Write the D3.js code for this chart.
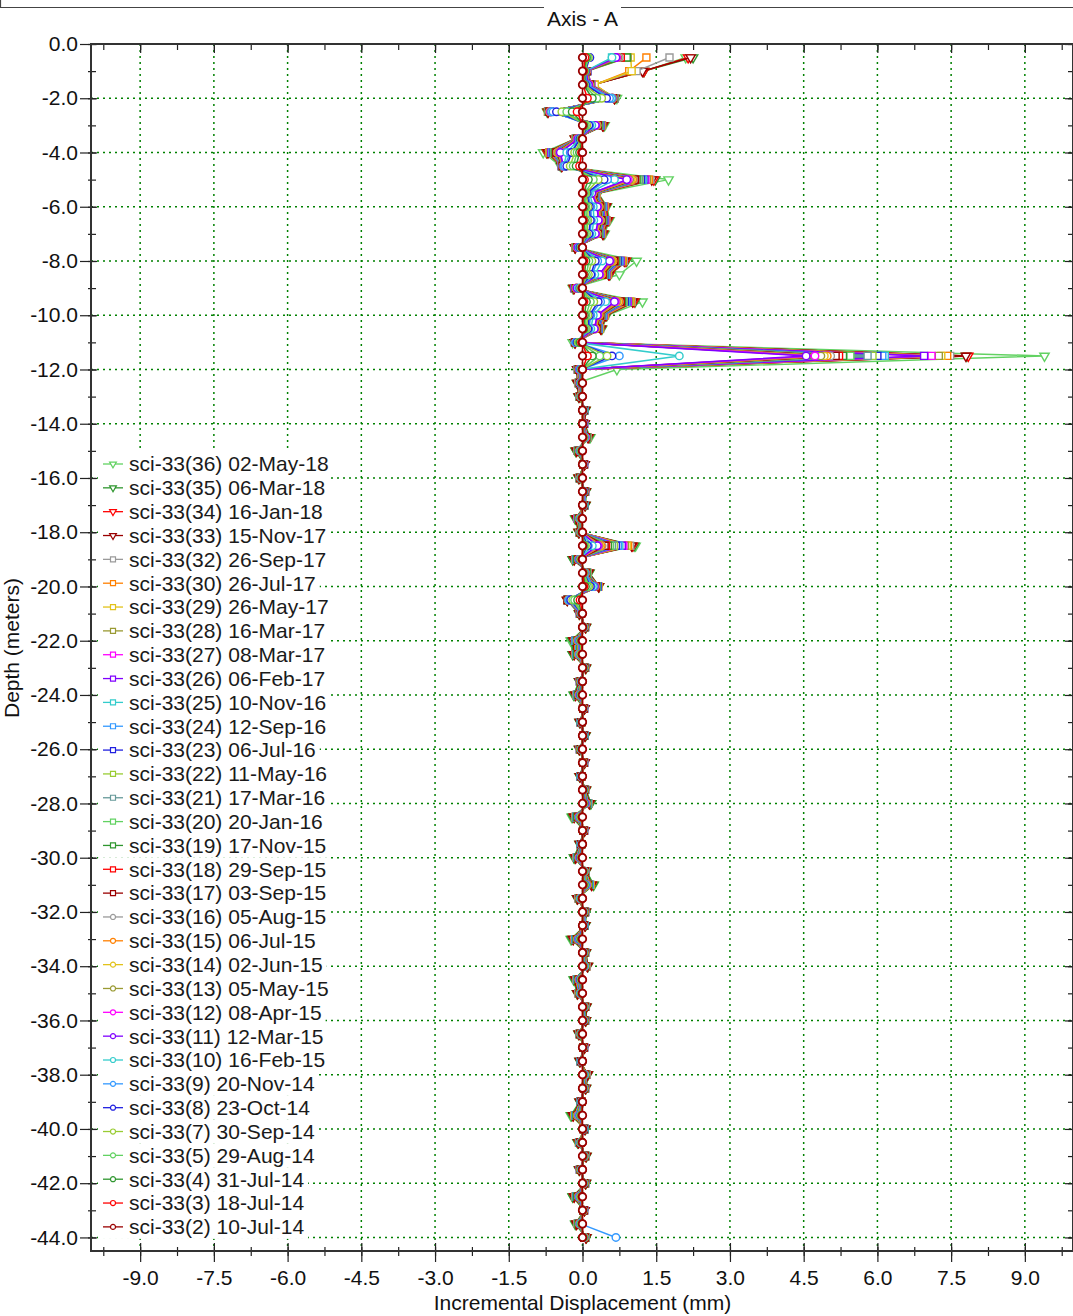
<!DOCTYPE html>
<html>
<head>
<meta charset="utf-8">
<script src="https://cdn.jsdelivr.net/npm/d3@7"></script>
<style>
	body { margin: 0; background: #fff; }
	#graphic { width: 1073px; height: 1316px; }
	text { font-family: "Liberation Sans", Arial, sans-serif; }
</style>
</head>
<body>
<div id="graphic"></div>
<script>
// depth of each reading (m)
const depths = [-0.5,-1,-1.5,-2,-2.5,-3,-3.5,-4,-4.5,-5,-5.5,-6,-6.5,-7,-7.5,-8,-8.5,-9,-9.5,-10,-10.5,-11,-11.5,-12,
	-12.5,-13,-13.5,-14,-14.5,-15,-15.5,-16,-16.5,-17,-17.5,-18,-18.5,-19,-19.5,-20,-20.5,-21,-21.5,-22,-22.5,-23,-23.5,-24,
	-24.5,-25,-25.5,-26,-26.5,-27,-27.5,-28,-28.5,-29,-29.5,-30,-30.5,-31,-31.5,-32,-32.5,-33,-33.5,-34,-34.5,-35,-35.5,-36,
	-36.5,-37,-37.5,-38,-38.5,-39,-39.5,-40,-40.5,-41,-41.5,-42,-42.5,-43,-43.5,-44];

// legend order, newest first
const seriesIds = [36,35,34,33,32,30,29,28,27,26,25,24,23,22,21,20,19,18,17,16,15,14,13,12,11,10,9,8,7,5,4,3,2];
const seriesDates = ["02-May-18","06-Mar-18","16-Jan-18","15-Nov-17","26-Sep-17","26-Jul-17","26-May-17","16-Mar-17",
	"08-Mar-17","06-Feb-17","10-Nov-16","12-Sep-16","06-Jul-16","11-May-16","17-Mar-16","20-Jan-16","17-Nov-15",
	"29-Sep-15","03-Sep-15","05-Aug-15","06-Jul-15","02-Jun-15","05-May-15","08-Apr-15","12-Mar-15","16-Feb-15",
	"20-Nov-14","23-Oct-14","30-Sep-14","29-Aug-14","31-Jul-14","18-Jul-14","10-Jul-14"];

// incremental displacement (mm) at each depth, one array per reading
const s36 = [2.1,1.25,0.2,0.7,-0.72,0.45,-0.15,-0.8,-0.45,1.75,0.32,0.5,0.55,0.45,-0.15,1.1,0.75,-0.2,1.22,0.5,0.4,-0.2,9.4,0.7,
	-0.11,-0.08,0.06,0.04,0.16,-0.14,0.04,-0.08,0.07,0.06,-0.15,-0.08,1.08,-0.2,0.14,0.34,-0.31,-0.07,0.07,-0.24,-0.2,0.07,-0.07,-0.18,0.04,-0.06,0.06,-0.07,0.04,-0.06,0.07,0.17,-0.22,0.04,-0.06,-0.17,0.08,0.23,-0.11,0.07,0.06,-0.24,0.07,0.11,-0.18,-0.11,0.08,0.07,-0.08,0.04,-0.06,0.11,0.07,-0.06,-0.24,0.06,-0.1,0.08,-0.07,0.07,-0.2,0.04,-0.15,0.08];
const s35 = [2.25,1.25,0.2,0.66,-0.71,0.43,-0.15,-0.73,-0.43,1.48,0.31,0.49,0.53,0.43,-0.15,0.9,0.56,-0.18,1.07,0.49,0.39,-0.16,7.82,-0.11,
	-0.11,-0.08,0.06,0.04,0.14,-0.14,0.04,-0.08,0.07,0.06,-0.14,-0.08,1.05,-0.2,0.14,0.33,-0.31,-0.07,0.07,-0.21,-0.2,0.07,-0.07,-0.17,0.04,-0.06,0.06,-0.07,0.04,-0.06,0.07,0.17,-0.2,0.04,-0.06,-0.17,0.08,0.22,-0.11,0.07,0.06,-0.22,0.07,0.11,-0.17,-0.11,0.08,0.07,-0.08,0.04,-0.06,0.11,0.07,-0.06,-0.22,0.06,-0.1,0.08,-0.07,0.07,-0.2,0.04,-0.14,0.08];
const s34 = [2.15,1.25,0.2,0.65,-0.7,0.42,-0.15,-0.72,-0.42,1.45,0.3,0.48,0.52,0.42,-0.15,0.88,0.55,-0.18,1.05,0.48,0.38,-0.15,7.85,-0.1,
	-0.1,-0.07,0.05,0.04,0.12,-0.12,0.04,-0.07,0.06,0.05,-0.12,-0.07,1.02,-0.17,0.12,0.33,-0.31,-0.06,0.06,-0.18,-0.17,0.06,-0.06,-0.14,0.04,-0.05,0.05,-0.06,0.04,-0.05,0.06,0.14,-0.17,0.04,-0.05,-0.14,0.07,0.19,-0.1,0.06,0.05,-0.19,0.06,0.1,-0.14,-0.1,0.07,0.06,-0.07,0.04,-0.05,0.1,0.06,-0.05,-0.19,0.05,-0.08,0.07,-0.06,0.06,-0.17,0.04,-0.12,0.07];
const s33 = [2.2,1.22,0.22,0.65,-0.7,0.41,-0.15,-0.7,-0.42,1.41,0.29,0.47,0.5,0.41,-0.15,0.85,0.53,-0.17,1.02,0.47,0.37,-0.15,7.8,-0.1,
	-0.1,-0.07,0.05,0.04,0.11,-0.12,0.04,-0.07,0.06,0.05,-0.12,-0.07,1.0,-0.17,0.12,0.33,-0.31,-0.06,0.06,-0.18,-0.17,0.06,-0.06,-0.14,0.04,-0.05,0.05,-0.06,0.04,-0.05,0.06,0.14,-0.17,0.04,-0.05,-0.14,0.07,0.18,-0.1,0.06,0.05,-0.19,0.06,0.1,-0.14,-0.1,0.07,0.06,-0.07,0.04,-0.05,0.1,0.06,-0.05,-0.19,0.05,-0.08,0.07,-0.06,0.06,-0.17,0.04,-0.12,0.07];
const s32 = [1.77,1.1,0.22,0.65,-0.7,0.4,-0.14,-0.68,-0.42,1.38,0.29,0.46,0.49,0.4,-0.14,0.84,0.52,-0.17,1.0,0.46,0.36,-0.15,7.48,-0.1,
	-0.08,-0.06,0.04,0.03,0.1,-0.1,0.03,-0.06,0.05,0.04,-0.1,-0.06,0.97,-0.14,0.1,0.32,-0.3,-0.05,0.05,-0.15,-0.14,0.05,-0.05,-0.12,0.03,-0.04,0.04,-0.05,0.03,-0.04,0.05,0.12,-0.14,0.03,-0.04,-0.12,0.06,0.16,-0.08,0.05,0.04,-0.16,0.05,0.08,-0.12,-0.08,0.06,0.05,-0.06,0.03,-0.04,0.08,0.05,-0.04,-0.16,0.04,-0.07,0.06,-0.05,0.05,-0.14,0.03,-0.1,0.06];
const s30 = [1.3,0.95,0.25,0.65,-0.7,0.39,-0.14,-0.67,-0.42,1.35,0.28,0.45,0.48,0.39,-0.14,0.82,0.51,-0.17,0.98,0.45,0.35,-0.15,7.42,-0.09,
	-0.08,-0.06,0.04,0.03,0.1,-0.1,0.03,-0.06,0.05,0.04,-0.1,-0.06,0.93,-0.14,0.1,0.32,-0.3,-0.05,0.05,-0.15,-0.14,0.05,-0.05,-0.11,0.03,-0.04,0.04,-0.05,0.03,-0.04,0.05,0.11,-0.14,0.03,-0.04,-0.12,0.06,0.16,-0.08,0.05,0.04,-0.16,0.05,0.08,-0.12,-0.08,0.06,0.05,-0.06,0.03,-0.04,0.08,0.05,-0.04,-0.16,0.04,-0.07,0.06,-0.05,0.05,-0.14,0.03,-0.1,0.06];
const s29 = [0.98,1.0,0.25,0.65,-0.7,0.38,-0.14,-0.66,-0.42,1.32,0.27,0.44,0.47,0.38,-0.14,0.8,0.5,-0.16,0.96,0.44,0.35,-0.15,7.3,-0.09,
	-0.08,-0.06,0.04,0.03,0.1,-0.09,0.03,-0.06,0.05,0.04,-0.1,-0.06,0.9,-0.14,0.1,0.32,-0.3,-0.05,0.05,-0.15,-0.14,0.05,-0.05,-0.12,0.03,-0.04,0.04,-0.05,0.03,-0.04,0.05,0.12,-0.14,0.03,-0.04,-0.12,0.06,0.16,-0.08,0.05,0.04,-0.15,0.05,0.08,-0.12,-0.08,0.06,0.05,-0.06,0.03,-0.04,0.08,0.05,-0.04,-0.16,0.04,-0.07,0.06,-0.05,0.05,-0.14,0.03,-0.1,0.06];
const s28 = [0.92,0.1,0.18,0.65,-0.7,0.38,-0.14,-0.65,-0.42,1.31,0.27,0.43,0.47,0.38,-0.14,0.79,0.5,-0.16,0.95,0.43,0.34,-0.15,7.25,-0.09,
	-0.07,-0.05,0.04,0.03,0.09,-0.09,0.03,-0.05,0.05,0.04,-0.09,-0.05,0.86,-0.13,0.09,0.31,-0.3,-0.05,0.05,-0.14,-0.13,0.05,-0.05,-0.11,0.03,-0.04,0.04,-0.05,0.03,-0.04,0.05,0.11,-0.13,0.03,-0.04,-0.11,0.05,0.14,-0.07,0.05,0.04,-0.14,0.05,0.07,-0.11,-0.07,0.05,0.05,-0.05,0.03,-0.04,0.07,0.05,-0.04,-0.14,0.04,-0.06,0.05,-0.05,0.05,-0.13,0.03,-0.09,0.05];
const s27 = [0.8,0.1,0.18,0.64,-0.69,0.37,-0.13,-0.63,-0.42,1.28,0.26,0.42,0.46,0.37,-0.13,0.77,0.48,-0.16,0.92,0.42,0.33,-0.15,7.1,-0.09,
	-0.07,-0.05,0.04,0.03,0.09,-0.09,0.03,-0.05,0.05,0.04,-0.1,-0.05,0.83,-0.13,0.09,0.31,-0.3,-0.05,0.05,-0.14,-0.13,0.05,-0.05,-0.11,0.03,-0.04,0.04,-0.05,0.03,-0.04,0.05,0.11,-0.13,0.03,-0.04,-0.11,0.05,0.14,-0.07,0.05,0.04,-0.14,0.05,0.07,-0.11,-0.07,0.05,0.05,-0.05,0.03,-0.04,0.07,0.05,-0.04,-0.14,0.04,-0.06,0.05,-0.05,0.05,-0.13,0.03,-0.09,0.05];
const s26 = [0.72,0.1,0.17,0.64,-0.69,0.37,-0.13,-0.63,-0.42,1.26,0.26,0.42,0.45,0.37,-0.13,0.77,0.48,-0.16,0.91,0.42,0.33,-0.15,6.95,-0.09,
	-0.07,-0.05,0.04,0.03,0.09,-0.09,0.03,-0.05,0.05,0.04,-0.09,-0.05,0.8,-0.13,0.09,0.31,-0.3,-0.05,0.05,-0.13,-0.13,0.05,-0.05,-0.11,0.03,-0.04,0.04,-0.05,0.03,-0.04,0.05,0.11,-0.13,0.03,-0.04,-0.11,0.05,0.14,-0.07,0.05,0.04,-0.14,0.05,0.07,-0.11,-0.07,0.05,0.05,-0.05,0.03,-0.04,0.07,0.05,-0.04,-0.14,0.04,-0.06,0.05,-0.05,0.05,-0.13,0.03,-0.09,0.05];
const s25 = [0.6,0.09,0.17,0.64,-0.69,0.36,-0.13,-0.61,-0.42,1.23,0.26,0.41,0.44,0.36,-0.13,0.75,0.47,-0.15,0.89,0.41,0.32,-0.15,6.15,-0.09,
	-0.07,-0.05,0.04,0.03,0.09,-0.09,0.03,-0.05,0.05,0.04,-0.09,-0.05,0.75,-0.13,0.09,0.3,-0.3,-0.05,0.05,-0.14,-0.13,0.05,-0.05,-0.11,0.03,-0.04,0.04,-0.05,0.03,-0.04,0.05,0.11,-0.13,0.03,-0.04,-0.11,0.05,0.14,-0.07,0.05,0.04,-0.14,0.05,0.07,-0.11,-0.07,0.05,0.05,-0.05,0.03,-0.04,0.07,0.05,-0.04,-0.14,0.04,-0.06,0.05,-0.05,0.05,-0.13,0.03,-0.09,0.05];
const s24 = [0.65,0.09,0.17,0.64,-0.69,0.35,-0.12,-0.6,-0.41,1.2,0.25,0.4,0.43,0.35,-0.12,0.73,0.46,-0.15,0.87,0.4,0.32,-0.15,6.1,-0.08,
	-0.07,-0.05,0.04,0.03,0.09,-0.09,0.03,-0.05,0.05,0.04,-0.09,-0.05,0.72,-0.13,0.09,0.3,-0.3,-0.05,0.05,-0.14,-0.13,0.05,-0.05,-0.11,0.03,-0.04,0.04,-0.05,0.03,-0.04,0.05,0.1,-0.13,0.03,-0.04,-0.11,0.05,0.14,-0.07,0.05,0.04,-0.14,0.05,0.07,-0.11,-0.07,0.05,0.05,-0.05,0.03,-0.04,0.07,0.05,-0.04,-0.14,0.04,-0.06,0.05,-0.05,0.05,-0.13,0.03,-0.09,0.05];
const s23 = [0.7,0.09,0.16,0.64,-0.69,0.34,-0.12,-0.59,-0.41,1.19,0.25,0.39,0.43,0.34,-0.12,0.72,0.45,-0.15,0.86,0.39,0.31,-0.15,6.0,-0.08,
	-0.06,-0.05,0.03,0.02,0.07,-0.08,0.02,-0.05,0.04,0.03,-0.08,-0.05,0.68,-0.11,0.08,0.3,-0.3,-0.04,0.04,-0.11,-0.11,0.04,-0.04,-0.09,0.02,-0.03,0.03,-0.04,0.02,-0.03,0.04,0.09,-0.11,0.02,-0.03,-0.09,0.05,0.12,-0.06,0.04,0.03,-0.12,0.04,0.06,-0.09,-0.06,0.05,0.04,-0.05,0.02,-0.03,0.06,0.04,-0.03,-0.12,0.03,-0.05,0.05,-0.04,0.04,-0.11,0.02,-0.08,0.05];
const s22 = [0.78,0.09,0.16,0.64,-0.69,0.34,-0.12,-0.58,-0.41,1.16,0.24,0.38,0.42,0.34,-0.12,0.7,0.44,-0.14,0.84,0.38,0.3,-0.15,5.9,-0.08,
	-0.06,-0.05,0.03,0.02,0.08,-0.08,0.02,-0.05,0.04,0.03,-0.08,-0.05,0.64,-0.11,0.08,0.29,-0.3,-0.04,0.04,-0.11,-0.11,0.04,-0.04,-0.09,0.02,-0.03,0.03,-0.04,0.02,-0.03,0.04,0.09,-0.11,0.02,-0.03,-0.09,0.05,0.11,-0.06,0.04,0.03,-0.12,0.04,0.06,-0.09,-0.06,0.05,0.04,-0.05,0.02,-0.03,0.06,0.04,-0.03,-0.12,0.03,-0.05,0.05,-0.04,0.04,-0.11,0.02,-0.08,0.05];
const s21 = [0.75,0.09,0.16,0.63,-0.68,0.33,-0.12,-0.57,-0.41,1.15,0.24,0.38,0.41,0.33,-0.12,0.7,0.43,-0.14,0.83,0.38,0.3,-0.15,5.8,-0.08,
	-0.06,-0.05,0.03,0.02,0.08,-0.08,0.02,-0.05,0.04,0.03,-0.08,-0.05,0.6,-0.11,0.08,0.29,-0.3,-0.04,0.04,-0.11,-0.11,0.04,-0.04,-0.09,0.02,-0.03,0.03,-0.04,0.02,-0.03,0.04,0.09,-0.11,0.02,-0.03,-0.09,0.05,0.12,-0.06,0.04,0.03,-0.12,0.04,0.06,-0.09,-0.06,0.05,0.04,-0.05,0.02,-0.03,0.06,0.04,-0.03,-0.12,0.03,-0.05,0.05,-0.04,0.04,-0.11,0.02,-0.08,0.05];
const s20 = [0.8,0.09,0.15,0.63,-0.68,0.32,-0.12,-0.55,-0.41,1.12,0.23,0.37,0.4,0.32,-0.12,0.68,0.42,-0.14,0.81,0.37,0.29,-0.15,5.45,-0.08,
	-0.06,-0.05,0.03,0.02,0.08,-0.08,0.02,-0.05,0.04,0.03,-0.08,-0.05,0.56,-0.11,0.08,0.28,-0.3,-0.04,0.04,-0.11,-0.11,0.04,-0.04,-0.09,0.02,-0.03,0.03,-0.04,0.02,-0.03,0.04,0.09,-0.11,0.02,-0.03,-0.09,0.05,0.12,-0.06,0.04,0.03,-0.11,0.04,0.06,-0.09,-0.06,0.05,0.04,-0.05,0.02,-0.03,0.06,0.04,-0.03,-0.12,0.03,-0.05,0.05,-0.04,0.04,-0.11,0.02,-0.08,0.05];
const s19 = [0.9,0.08,0.15,0.62,-0.67,0.32,-0.11,-0.55,-0.4,1.1,0.23,0.36,0.4,0.32,-0.11,0.67,0.42,-0.14,0.8,0.36,0.29,-0.14,5.3,-0.08,
	-0.06,-0.05,0.03,0.02,0.08,-0.08,0.02,-0.05,0.04,0.03,-0.08,-0.05,0.52,-0.11,0.08,0.28,-0.3,-0.04,0.04,-0.11,-0.11,0.04,-0.04,-0.09,0.02,-0.03,0.03,-0.04,0.02,-0.03,0.04,0.09,-0.11,0.02,-0.03,-0.09,0.05,0.12,-0.06,0.04,0.03,-0.12,0.04,0.06,-0.09,-0.06,0.05,0.04,-0.05,0.02,-0.03,0.06,0.04,-0.03,-0.12,0.03,-0.05,0.05,-0.04,0.04,-0.11,0.02,-0.08,0.05];
const s18 = [0.78,0.08,0.15,0.62,-0.67,0.31,-0.11,-0.53,-0.4,1.07,0.22,0.36,0.38,0.31,-0.11,0.65,0.41,-0.13,0.78,0.36,0.28,-0.14,5.22,-0.07,
	-0.05,-0.04,0.02,0.02,0.07,-0.06,0.02,-0.04,0.03,0.02,-0.06,-0.04,0.48,-0.08,0.06,0.27,-0.3,-0.03,0.03,-0.09,-0.08,0.03,-0.03,-0.07,0.02,-0.02,0.02,-0.03,0.02,-0.02,0.03,0.07,-0.08,0.02,-0.02,-0.07,0.04,0.1,-0.05,0.03,0.02,-0.1,0.03,0.05,-0.07,-0.05,0.04,0.03,-0.04,0.02,-0.02,0.05,0.03,-0.02,-0.1,0.02,-0.04,0.04,-0.03,0.03,-0.08,0.02,-0.06,0.04];
const s17 = [0.72,0.08,0.15,0.62,-0.67,0.31,-0.11,-0.53,-0.4,1.06,0.22,0.35,0.38,0.31,-0.11,0.64,0.4,-0.13,0.77,0.35,0.28,-0.14,5.15,-0.07,
	-0.05,-0.04,0.02,0.02,0.06,-0.06,0.02,-0.04,0.03,0.02,-0.06,-0.04,0.45,-0.08,0.06,0.27,-0.3,-0.03,0.03,-0.09,-0.08,0.03,-0.03,-0.07,0.02,-0.02,0.02,-0.03,0.02,-0.02,0.03,0.07,-0.08,0.02,-0.02,-0.07,0.04,0.1,-0.05,0.03,0.02,-0.1,0.03,0.05,-0.07,-0.05,0.04,0.03,-0.04,0.02,-0.02,0.05,0.03,-0.02,-0.1,0.02,-0.04,0.04,-0.03,0.03,-0.08,0.02,-0.06,0.04];
const s16 = [0.75,0.08,0.14,0.62,-0.67,0.3,-0.11,-0.51,-0.4,1.03,0.21,0.34,0.37,0.3,-0.11,0.62,0.39,-0.13,0.75,0.34,0.27,-0.14,5.05,-0.07,
	-0.05,-0.04,0.02,0.02,0.06,-0.06,0.02,-0.04,0.03,0.02,-0.06,-0.04,0.4,-0.08,0.06,0.26,-0.29,-0.03,0.03,-0.09,-0.08,0.03,-0.03,-0.07,0.02,-0.02,0.02,-0.03,0.02,-0.02,0.03,0.08,-0.08,0.02,-0.02,-0.07,0.04,0.1,-0.05,0.03,0.02,-0.1,0.03,0.05,-0.07,-0.05,0.04,0.03,-0.04,0.02,-0.02,0.05,0.03,-0.02,-0.1,0.02,-0.04,0.04,-0.03,0.03,-0.08,0.02,-0.06,0.04];
const s15 = [0.7,0.08,0.14,0.61,-0.66,0.29,-0.11,-0.5,-0.39,1.02,0.21,0.34,0.36,0.29,-0.11,0.62,0.39,-0.13,0.74,0.34,0.27,-0.14,4.98,-0.07,
	-0.05,-0.04,0.02,0.02,0.06,-0.06,0.02,-0.04,0.03,0.02,-0.06,-0.04,0.38,-0.08,0.06,0.26,-0.29,-0.03,0.03,-0.09,-0.08,0.03,-0.03,-0.07,0.02,-0.02,0.02,-0.03,0.02,-0.02,0.03,0.07,-0.08,0.02,-0.02,-0.07,0.04,0.1,-0.05,0.03,0.02,-0.1,0.03,0.05,-0.07,-0.05,0.04,0.03,-0.04,0.02,-0.02,0.05,0.03,-0.02,-0.1,0.02,-0.04,0.04,-0.03,0.03,-0.08,0.02,-0.06,0.04];
const s14 = [0.65,0.08,0.14,0.61,-0.66,0.29,-0.1,-0.49,-0.39,0.99,0.2,0.33,0.35,0.29,-0.1,0.6,0.37,-0.12,0.71,0.33,0.26,-0.14,4.92,-0.07,
	-0.05,-0.04,0.02,0.02,0.06,-0.06,0.02,-0.04,0.03,0.02,-0.06,-0.04,0.35,-0.08,0.06,0.25,-0.29,-0.03,0.03,-0.1,-0.08,0.03,-0.03,-0.07,0.02,-0.02,0.02,-0.03,0.02,-0.02,0.03,0.07,-0.08,0.02,-0.02,-0.07,0.04,0.1,-0.05,0.03,0.02,-0.1,0.03,0.05,-0.07,-0.05,0.04,0.03,-0.04,0.02,-0.02,0.05,0.03,-0.02,-0.1,0.02,-0.04,0.04,-0.03,0.03,-0.08,0.02,-0.06,0.04];
const s13 = [0.72,0.07,0.13,0.61,-0.65,0.28,-0.1,-0.48,-0.39,0.96,0.2,0.32,0.34,0.28,-0.1,0.58,0.36,-0.12,0.69,0.32,0.25,-0.14,4.85,-0.07,
	-0.05,-0.04,0.02,0.02,0.06,-0.06,0.02,-0.04,0.03,0.02,-0.06,-0.04,0.33,-0.08,0.06,0.25,-0.28,-0.03,0.03,-0.09,-0.08,0.03,-0.03,-0.07,0.02,-0.02,0.02,-0.03,0.02,-0.02,0.03,0.07,-0.08,0.02,-0.02,-0.07,0.04,0.1,-0.05,0.03,0.02,-0.1,0.03,0.05,-0.07,-0.05,0.04,0.03,-0.04,0.02,-0.02,0.05,0.03,-0.02,-0.1,0.02,-0.04,0.04,-0.03,0.03,-0.08,0.02,-0.06,0.04];
const s12 = [0.7,0.07,0.13,0.6,-0.65,0.27,-0.1,-0.46,-0.39,0.93,0.19,0.31,0.33,0.27,-0.1,0.56,0.35,-0.12,0.67,0.31,0.24,-0.14,4.73,-0.06,
	-0.05,-0.03,0.02,0.02,0.06,-0.05,0.02,-0.03,0.03,0.02,-0.05,-0.03,0.32,-0.07,0.05,0.24,-0.28,-0.03,0.02,-0.08,-0.07,0.02,-0.02,-0.06,0.01,-0.02,0.02,-0.02,0.01,-0.02,0.02,0.06,-0.07,0.01,-0.02,-0.06,0.03,0.08,-0.04,0.02,0.02,-0.08,0.02,0.04,-0.06,-0.04,0.03,0.02,-0.03,0.01,-0.02,0.04,0.02,-0.02,-0.08,0.02,-0.03,0.03,-0.02,0.02,-0.07,0.01,-0.05,0.03];
const s11 = [0.68,0.07,0.12,0.6,-0.64,0.26,-0.09,-0.45,-0.39,0.9,0.19,0.3,0.32,0.26,-0.09,0.55,0.34,-0.11,0.65,0.3,0.24,-0.14,4.55,-0.06,
	-0.04,-0.03,0.02,0.02,0.05,-0.05,0.01,-0.03,0.02,0.02,-0.05,-0.03,0.3,-0.07,0.05,0.24,-0.28,-0.02,0.02,-0.07,-0.06,0.02,-0.02,-0.05,0.01,-0.02,0.02,-0.02,0.01,-0.02,0.02,0.05,-0.07,0.01,-0.02,-0.05,0.03,0.07,-0.04,0.02,0.02,-0.08,0.02,0.04,-0.05,-0.04,0.03,0.02,-0.03,0.01,-0.02,0.04,0.02,-0.02,-0.07,0.02,-0.03,0.03,-0.02,0.02,-0.07,0.01,-0.05,0.03];
const s10 = [0.6,0.06,0.09,0.59,-0.63,0.19,-0.07,-0.32,-0.38,0.65,0.14,0.22,0.23,0.19,-0.07,0.4,0.25,-0.08,0.47,0.22,0.17,-0.14,1.97,-0.05,
	-0.04,-0.03,0.02,0.01,0.05,-0.05,0.01,-0.03,0.02,0.02,-0.05,-0.03,0.2,-0.06,0.05,0.22,-0.28,-0.02,0.02,-0.07,-0.06,0.02,-0.02,-0.05,0.01,-0.02,0.02,-0.02,0.01,-0.02,0.02,0.05,-0.06,0.01,-0.02,-0.05,0.03,0.07,-0.04,0.02,0.02,-0.07,0.02,0.04,-0.05,-0.04,0.03,0.02,-0.03,0.01,-0.02,0.04,0.02,-0.02,-0.07,0.02,-0.03,0.03,-0.02,0.02,-0.06,0.01,-0.05,0.03];
const s9 = [0.12,0.05,0.07,0.55,-0.6,0.15,-0.05,-0.25,-0.36,0.51,0.11,0.17,0.18,0.15,-0.05,0.31,0.19,-0.06,0.37,0.17,0.13,-0.13,0.75,-0.04,
	-0.03,-0.02,0.02,0.01,0.04,-0.04,0.01,-0.02,0.02,0.02,-0.04,-0.02,0.12,-0.05,0.04,0.18,-0.26,-0.02,0.02,-0.05,-0.05,0.02,-0.02,-0.04,0.01,-0.02,0.02,-0.02,0.01,-0.02,0.02,0.04,-0.05,0.01,-0.02,-0.04,0.02,0.05,-0.03,0.02,0.02,-0.05,0.02,0.03,-0.04,-0.03,0.02,0.02,-0.02,0.01,-0.02,0.03,0.02,-0.02,-0.05,0.02,-0.03,0.02,-0.02,0.02,-0.05,0.01,-0.04,0.68];
const s8 = [0.15,0.06,0.06,0.49,-0.53,0.13,-0.05,-0.22,-0.32,0.44,0.09,0.14,0.16,0.13,-0.05,0.26,0.17,-0.05,0.32,0.14,0.11,-0.11,0.6,-0.03,
	-0.03,-0.02,0.01,0.01,0.03,-0.03,0.01,-0.02,0.02,0.01,-0.03,-0.02,0.1,-0.05,0.03,0.16,-0.24,-0.01,0.01,-0.05,-0.04,0.01,-0.01,-0.04,0.01,-0.01,0.01,-0.01,0.01,-0.01,0.01,0.04,-0.04,0.01,-0.01,-0.04,0.02,0.05,-0.02,0.01,0.01,-0.05,0.01,0.02,-0.04,-0.02,0.02,0.01,-0.02,0.01,-0.01,0.02,0.01,-0.01,-0.05,0.01,-0.02,0.02,-0.01,0.01,-0.04,0.01,-0.03,0.02];
const s7 = [0.12,0.05,0.04,0.39,-0.42,0.09,-0.03,-0.16,-0.25,0.32,0.07,0.11,0.11,0.09,-0.03,0.19,0.12,-0.04,0.23,0.11,0.08,-0.09,0.5,-0.02,
	-0.02,-0.02,0.01,0.01,0.03,-0.03,0.01,-0.02,0.01,0.01,-0.03,-0.02,0.06,-0.04,0.03,0.13,-0.2,-0.01,0.01,-0.04,-0.04,0.01,-0.01,-0.03,0.01,-0.01,0.01,-0.01,0.01,-0.01,0.01,0.03,-0.04,0.01,-0.01,-0.03,0.02,0.04,-0.02,0.01,0.01,-0.04,0.01,0.02,-0.03,-0.02,0.02,0.01,-0.02,0.01,-0.01,0.02,0.01,-0.01,-0.04,0.01,-0.02,0.02,-0.01,0.01,-0.04,0.01,-0.03,0.02];
const s5 = [0.1,0.04,0.03,0.29,-0.32,0.06,-0.02,-0.11,-0.19,0.22,0.05,0.07,0.08,0.06,-0.02,0.13,0.08,-0.03,0.16,0.07,0.06,-0.07,0.35,-0.02,
	-0.02,-0.01,0.01,0,0.02,-0.02,0,-0.01,0.01,0.01,-0.02,-0.01,0.04,-0.02,0.02,0.1,-0.16,-0.01,0.01,-0.03,-0.02,0.01,0,-0.02,0,-0.01,0.01,-0.01,0,0,0.01,0.02,-0.02,0,0,-0.02,0.01,0.03,-0.01,0.01,0,-0.03,0.01,0.01,-0.02,-0.01,0.01,0.01,-0.01,0,0,0.01,0.01,0,-0.03,0,-0.01,0.01,-0.01,0.01,-0.02,0,-0.02,0.01];
const s4 = [0.08,0.03,0.02,0.2,-0.21,0.03,-0.01,-0.06,-0.13,0.12,0.02,0.04,0.04,0.03,-0.01,0.07,0.04,-0.01,0.08,0.04,0.03,-0.05,0.2,-0.01,
	-0.01,-0.01,0,0,0.01,-0.01,0,-0.01,0.01,0,-0.01,-0.01,0.02,-0.01,0.01,0.06,-0.1,-0.01,0,-0.02,-0.01,0.01,0,-0.01,0,0,0,-0.01,0,0,0.01,0.01,-0.01,0,0,-0.01,0.01,0.02,-0.01,0,0,-0.02,0,0.01,-0.01,-0.01,0.01,0,-0.01,0,0,0.01,0,0,-0.02,0,-0.01,0.01,0,0,-0.01,0,-0.01,0.01];
const s3 = [0.05,0.02,0.01,0.1,-0.11,0.01,0,-0.02,-0.06,0.04,0.01,0.01,0.02,0.01,0,0.03,0.02,-0.01,0.03,0.01,0.01,-0.02,0.1,0,
	0,0,0,0,0.01,0,0,0,0,0,-0.01,0,0,-0.01,0.01,0.03,-0.05,0,0,-0.01,-0.01,0,0,0,0,0,0,0,0,0,0,0.01,-0.01,0,0,-0.01,0,0.01,0,0,0,-0.01,0,0,0,0,0,0,0,0,0,0,0,0,-0.01,0,0,0,0,0,-0.01,0,0,0];
const s2 = [0,0,0,0,0,0,0,0,0,0,0,0,0,0,0,0,0,0,0,0,0,0,0,0,
	0,0,0,0,0,0,0,0,0,0,0,0,0,0,0,0,0,0,0,0,0,0,0,0,0,0,0,0,0,0,0,0,0,0,0,0,0,0,0,0,0,0,0,0,0,0,0,0,0,0,0,0,0,0,0,0,0,0,0,0,0,0,0,0];

const seriesValues = [s36,s35,s34,s33,s32,s30,s29,s28,s27,s26,s25,s24,s23,s22,s21,s20,s19,s18,s17,s16,s15,s14,s13,s12,s11,s10,s9,s8,s7,s5,s4,s3,s2];

// axis ticks
const xTicks = [-9,-7.5,-6,-4.5,-3,-1.5,0,1.5,3,4.5,6,7.5,9];
const xMinorTicks = [-9.75,-9,-8.25,-7.5,-6.75,-6,-5.25,-4.5,-3.75,-3,-2.25,-1.5,-0.75,0,0.75,1.5,2.25,3,3.75,4.5,5.25,6,6.75,7.5,8.25,9,9.75];
const yTicks = [0,-2,-4,-6,-8,-10,-12,-14,-16,-18,-20,-22,-24,-26,-28,-30,-32,-34,-36,-38,-40,-42,-44];
const yMinorTicks = [0,-1,-2,-3,-4,-5,-6,-7,-8,-9,-10,-11,-12,-13,-14,-15,-16,-17,-18,-19,-20,-21,-22,
	-23,-24,-25,-26,-27,-28,-29,-30,-31,-32,-33,-34,-35,-36,-37,-38,-39,-40,-41,-42,-43,-44];

// style per reading (same order as seriesIds)
const colourPalette = ["#62d262","#2f962f","#ff0000","#9a0000","#9a9a9a","#ff8000","#e2c21a","#9a9a33","#ff00ff","#8000ff",
	"#33cccc","#3399ff","#2020e0","#99cc33","#669999","#62d262","#2f962f","#ff0000","#9a0000","#9a9a9a","#ff8000","#e2c21a",
	"#9a9a33","#ff00ff","#8000ff","#33cccc","#3399ff","#2020e0","#99cc33","#62d262","#2f962f","#ff0000","#9a0000"];
const shapeFor = (id) => id >= 33 ? 'triangle' : id >= 17 ? 'square' : 'circle';

const config = {
	width: 1073,
	height: 1316,
	plot: { left: 91, right: 1074, top: 44, bottom: 1251 },
	font: '"Liberation Sans", Arial, sans-serif',
	fontSize: 21,
	legendTop: 464,
	legendStep: 23.84
};

function symbolPath(shape, legend) {
	if (shape == 'triangle') return d3.symbol(d3.symbolTriangle, legend ? 20 : 38)();
	if (shape == 'square') return d3.symbol(d3.symbolSquare, legend ? 25 : 49)();
	return d3.symbol(d3.symbolCircle, legend ? 20 : 44)();
}

function drawGraphic() {
	let p = config.plot;

	let svg = d3.select('#graphic')
		.append('svg')
		.attr('width', config.width)
		.attr('height', config.height)
		.style('display', 'block');

	const x = d3.scaleLinear().domain([-10, 10]).range([p.left, p.right]);
	const y = d3.scaleLinear().domain([0, -44.5]).range([p.top, p.bottom]);

	// frame line and title
	svg.append('line')
		.attr('x1', 0).attr('x2', config.width)
		.attr('y1', 7.5).attr('y2', 7.5)
		.attr('stroke', '#444').attr('stroke-width', 1.2);
	svg.append('line')
		.attr('x1', 0.5).attr('x2', 0.5)
		.attr('y1', 0).attr('y2', 8)
		.attr('stroke', '#444').attr('stroke-width', 1.2);
	svg.append('rect')
		.attr('x', 544).attr('y', 2).attr('width', 77).attr('height', 26)
		.attr('fill', '#fff');
	svg.append('text')
		.attr('x', x(0)).attr('y', 19)
		.attr('dy', '0.35em')
		.attr('text-anchor', 'middle')
		.style('font-size', config.fontSize + 'px')
		.attr('fill', '#111')
		.text('Axis - A');

	// gridlines
	svg.append('g')
		.selectAll('line')
		.data(xTicks)
		.join('line')
		.attr('x1', (d) => x(d)).attr('x2', (d) => x(d))
		.attr('y1', p.top).attr('y2', p.bottom)
		.attr('stroke', '#008000').attr('stroke-width', 1.5)
		.attr('stroke-dasharray', '2,4');
	svg.append('g')
		.selectAll('line')
		.data(yTicks.filter((d) => d != 0))
		.join('line')
		.attr('x1', p.left).attr('x2', p.right)
		.attr('y1', (d) => y(d)).attr('y2', (d) => y(d))
		.attr('stroke', '#008000').attr('stroke-width', 1.5)
		.attr('stroke-dasharray', '2,4');

	// axes
	const fmt = (d) => d.toFixed(1);
	function tickGroup(gen, tx, ty, labels) {
		let g = svg.append('g')
			.attr('transform', 'translate(' + tx + ',' + ty + ')')
			.call(gen);
		g.select('.domain').remove();
		g.selectAll('line').attr('stroke', '#222').attr('stroke-width', 1.2);
		if (labels) {
			g.selectAll('text')
				.style('font-size', config.fontSize + 'px')
				.style('font-family', config.font)
				.attr('fill', '#111');
		} else {
			g.selectAll('text').remove();
		}
		return g;
	}

	// left
	tickGroup(d3.axisLeft(y).tickValues(yTicks).tickSize(11).tickPadding(2).tickFormat(fmt), p.left, 0, true);
	tickGroup(d3.axisRight(y).tickValues(yTicks).tickSize(6), p.left, 0, false);
	tickGroup(d3.axisLeft(y).tickValues(yMinorTicks).tickSize(3), p.left, 0, false);
	tickGroup(d3.axisRight(y).tickValues(yMinorTicks).tickSize(5), p.left, 0, false);
	// right
	tickGroup(d3.axisLeft(y).tickValues(yTicks).tickSize(8), p.right - 1, 0, false);
	tickGroup(d3.axisLeft(y).tickValues(yMinorTicks).tickSize(5), p.right - 1, 0, false);
	// bottom
	tickGroup(d3.axisBottom(x).tickValues(xTicks).tickSize(11).tickPadding(8).tickFormat(fmt), 0, p.bottom, true);
	tickGroup(d3.axisTop(x).tickValues(xTicks).tickSize(8), 0, p.bottom, false);
	tickGroup(d3.axisBottom(x).tickValues(xMinorTicks).tickSize(5), 0, p.bottom, false);
	tickGroup(d3.axisTop(x).tickValues(xMinorTicks).tickSize(4), 0, p.bottom, false);
	// top
	tickGroup(d3.axisBottom(x).tickValues(xTicks).tickSize(9), 0, p.top, false);
	tickGroup(d3.axisBottom(x).tickValues(xMinorTicks).tickSize(6), 0, p.top, false);

	// plot border
	svg.append('rect')
		.attr('x', p.left).attr('y', p.top)
		.attr('width', p.right - 1 - p.left).attr('height', p.bottom - p.top)
		.attr('fill', 'none')
		.attr('stroke', '#333').attr('stroke-width', 2);

	// axis titles
	svg.append('text')
		.attr('x', x(0)).attr('y', 1303)
		.attr('dy', '0.35em')
		.attr('text-anchor', 'middle')
		.style('font-size', config.fontSize + 'px')
		.attr('fill', '#111')
		.text('Incremental Displacement (mm)');
	svg.append('text')
		.attr('transform', 'translate(12,648) rotate(-90)')
		.attr('dy', '0.35em')
		.attr('text-anchor', 'middle')
		.style('font-size', config.fontSize + 'px')
		.attr('fill', '#111')
		.text('Depth (meters)');

	// data: oldest reading drawn last so it sits on top
	let line = d3.line()
		.x((d) => x(d[1]))
		.y((d) => y(d[0]));

	let seriesData = seriesIds.map((id, i) => ({
		id: id,
		colour: colourPalette[i],
		shape: shapeFor(id),
		points: depths.map((dep, j) => [dep, seriesValues[i][j]]).filter((d) => d[1] != null)
	}));

	let dataG = svg.append('g');
	seriesData.forEach(function (s) {
		let g = dataG.append('g');
		g.append('path')
			.datum(s.points)
			.attr('d', line)
			.attr('fill', 'none')
			.attr('stroke', s.colour)
			.attr('stroke-width', 1.5);
		g.selectAll('path.marker')
			.data(s.points)
			.join('path')
			.attr('class', 'marker')
			.attr('d', symbolPath(s.shape, false))
			.attr('transform', (d) => 'translate(' + x(d[1]) + ',' + y(d[0]) + ')' + (s.shape == 'triangle' ? ' rotate(180)' : ''))
			.attr('fill', '#fff')
			.attr('stroke', s.colour)
			.attr('stroke-width', s.id == 2 ? 1.8 : 1.4);
	});

	// legend
	let legend = svg.append('g');
	let items = legend.selectAll('g.legend--item')
		.data(seriesData)
		.join('g')
		.attr('class', 'legend--item')
		.attr('transform', (d, i) => 'translate(0,' + (config.legendTop + i * config.legendStep) + ')');

	items.append('rect')
		.attr('class', 'legend--bg')
		.attr('x', 98).attr('y', -12)
		.attr('height', 24)
		.attr('fill', '#fff');

	items.append('line')
		.attr('x1', 103).attr('x2', 123)
		.attr('y1', 0).attr('y2', 0)
		.attr('stroke', (d) => d.colour)
		.attr('stroke-width', 1.3);

	items.append('path')
		.attr('d', (d) => symbolPath(d.shape, true))
		.attr('transform', (d) => 'translate(113,0)' + (d.shape == 'triangle' ? ' rotate(180)' : ''))
		.attr('fill', '#fff')
		.attr('stroke', (d) => d.colour)
		.attr('stroke-width', 1.2);

	items.append('text')
		.attr('x', 129).attr('y', 0)
		.attr('dy', '0.35em')
		.style('font-size', config.fontSize + 'px')
		.attr('fill', '#1a1a1a')
		.text((d, i) => 'sci-33(' + d.id + ') ' + seriesDates[i]);

	// size the white backing to each label
	items.each(function () {
		let w = d3.select(this).select('text').node().getComputedTextLength();
		d3.select(this).select('rect.legend--bg').attr('width', 129 + w + 4 - 98);
	});
}

drawGraphic();
</script>
</body>
</html>
